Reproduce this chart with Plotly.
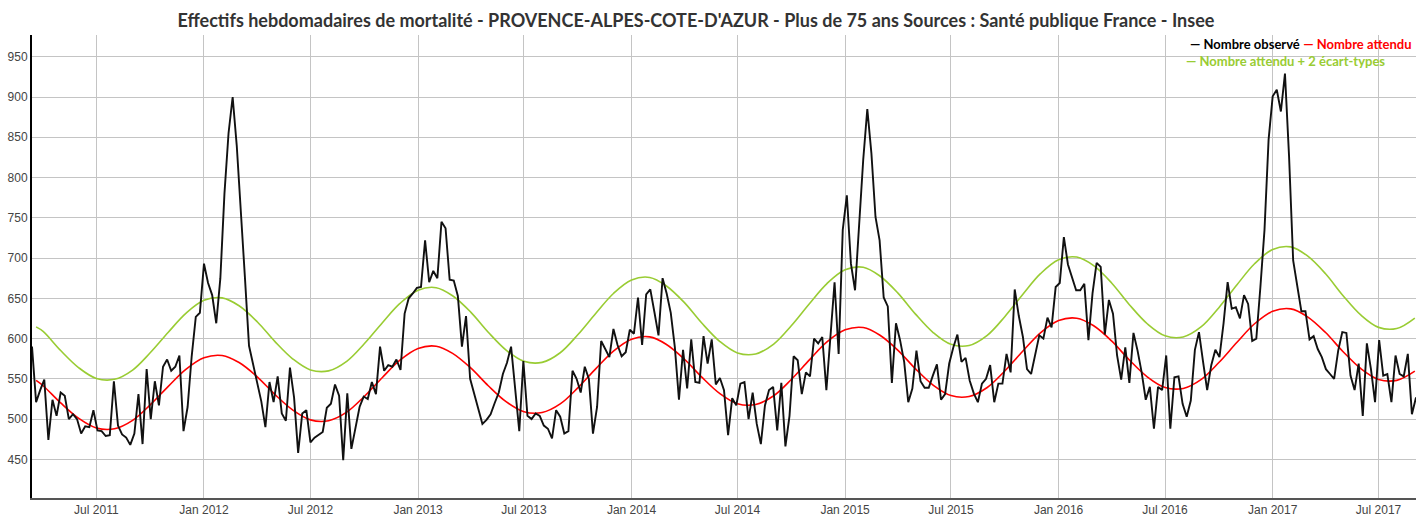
import pandas as pd
import plotly.graph_objects as go

# ---------------- data ----------------
obs_start = "2011-03-13"
observed = [
    590, 521, 536, 549, 474, 524, 504, 533, 529, 500,
    506, 500, 482, 491, 490, 511, 486, 485, 479, 480,
    547, 492, 481, 477, 468, 482, 531, 469, 562, 500,
    547, 517, 565, 574, 560, 565, 579, 485, 515, 578,
    627, 632, 693, 669, 654, 619, 675, 780, 855, 900,
    840, 764, 676, 591, 569, 548, 522, 490, 546, 521,
    553, 507, 498, 564, 527, 458, 507, 511, 471, 477,
    480, 484, 514, 519, 543, 529, 449, 532, 463, 490,
    515, 528, 525, 546, 531, 590, 560, 567, 565, 574,
    561, 631, 650, 656, 663, 664, 722, 670, 684, 675,
    745, 737, 673, 672, 653, 590, 628, 550, 531, 513,
    494, 499, 506, 520, 533, 556, 570, 590, 538, 485,
    572, 504, 500, 507, 504, 492, 488, 476, 511, 503,
    482, 485, 560, 550, 533, 565, 550, 482, 515, 597,
    587, 577, 612, 592, 578, 583, 611, 606, 651, 592,
    655, 661, 633, 604, 675, 656, 632, 589, 524, 586,
    538, 599, 546, 545, 603, 569, 599, 543, 551, 536,
    480, 526, 517, 544, 546, 500, 533, 494, 469, 517,
    536, 540, 486, 545, 466, 504, 578, 573, 531, 558,
    553, 600, 594, 602, 536, 606, 670, 581, 735, 778,
    693, 660, 739, 822, 885, 830, 751, 722, 651, 640,
    545, 619, 598, 571, 521, 538, 585, 547, 539, 539,
    554, 568, 524, 531, 569, 589, 605, 571, 576, 548,
    532, 521, 544, 550, 567, 521, 544, 544, 581, 558,
    661, 628, 602, 562, 556, 581, 604, 600, 626, 614,
    664, 669, 726, 692, 675, 660, 660, 668, 598, 656,
    694, 689, 605, 648, 631, 579, 549, 589, 545, 607,
    585, 558, 524, 540, 488, 540, 536, 579, 488, 552,
    553, 519, 503, 523, 586, 608, 571, 536, 567, 586,
    577, 619, 670, 637, 639, 625, 654, 643, 597, 600,
    664, 735, 847, 901, 909, 882, 929, 826, 697, 666,
    634, 634, 599, 603, 587, 577, 562, 556, 550, 585,
    608, 607, 554, 536, 569, 504, 594, 562, 521, 598,
    554, 556, 521, 579, 556, 553, 581, 506, 527,
]
obs_dates = pd.date_range(obs_start, periods=len(observed), freq="7D")

curve_dates = [pd.Timestamp("2011-03-20")] + list(
    pd.date_range("2011-04-01", "2017-09-01", freq="MS"))

expected = [
    548, 541.4, 520.1, 500.8, 489.0, 488.0, 498.4, 517.6, 540.7, 561.8,
    576.2, 579.0, 570.2, 552.5, 530.7, 511.1, 499.0, 498.0, 508.6, 528.1, 551.7, 573.1,
    587.7, 590.5, 581.6, 563.5, 541.4, 521.3, 509.1, 508.1, 518.8, 538.7, 562.6, 584.5,
    599.3, 602.1, 593.0, 574.6, 552.1, 531.6, 519.1, 518.1, 529.0, 549.2, 573.5, 595.8,
    610.8, 613.7, 604.4, 585.7, 562.7, 541.9, 529.2, 528.1, 539.2, 559.7, 584.5, 607.1,
    622.4, 625.3, 615.9, 596.8, 573.4, 552.2, 539.2, 538.1, 549.3, 570.2, 595.4, 618.4,
    633.9, 636.9, 627.3, 607.8, 584.0, 562.5, 549.3, 548.1, 559.5,
]
upper = [
    614.5, 608.9, 585.1, 563.7, 550.5, 549.4, 560.9, 582.3, 607.9, 631.3,
    647.5, 650.5, 640.7, 620.9, 596.5, 574.6, 561.1, 559.9, 571.7, 593.5, 619.7, 643.6,
    660.1, 663.2, 653.2, 632.9, 607.9, 585.4, 571.7, 570.4, 582.4, 604.7, 631.5, 656.0,
    672.8, 675.9, 665.6, 644.9, 619.3, 596.3, 582.2, 580.9, 593.2, 615.9, 643.3, 668.3,
    685.4, 688.6, 678.0, 656.8, 630.7, 607.2, 592.8, 591.4, 604.0, 627.2, 655.1, 680.6,
    698.0, 701.2, 690.5, 668.8, 642.1, 618.1, 603.4, 602.0, 614.7, 638.4, 666.9, 692.9,
    710.7, 713.9, 702.9, 680.8, 653.6, 629.0, 613.9, 612.5, 625.5,
]

series_names = ["Nombre observé", "Nombre attendu", "Nombre attendu + 2 écart-types"]
colors = ["#000000", "#ff0000", "#99cc33"]
title_text = ("Effectifs hebdomadaires de mortalité - PROVENCE-ALPES-COTE-D'AZUR - "
              "Plus de 75 ans Sources : Santé publique France - Insee")
x_range = ["2011-03-13", "2017-09-03"]
y_range = [402, 977]

# ---------------- figure ----------------
fig = go.Figure()
fig.add_trace(go.Scatter(x=curve_dates, y=upper, mode="lines", name=series_names[2],
                         line=dict(color=colors[2], width=1.6, shape="spline"),
                         showlegend=False))
fig.add_trace(go.Scatter(x=curve_dates, y=expected, mode="lines", name=series_names[1],
                         line=dict(color=colors[1], width=1.6, shape="spline"),
                         showlegend=False))
fig.add_trace(go.Scatter(x=obs_dates, y=observed, mode="lines", name=series_names[0],
                         line=dict(color="#111111", width=1.9),
                         showlegend=False))

legend_font = dict(family="Lato, sans-serif", size=13)
fig.add_annotation(
    xref="paper", yref="paper", x=1, y=0.9806, xanchor="right", yanchor="middle",
    xshift=-2, showarrow=False, font=legend_font,
    text=(f"<span style='color:{colors[0]}'><b>— {series_names[0]}</b></span> "
          f"<span style='color:{colors[1]}'><b>— {series_names[1]}</b></span>"))
fig.add_annotation(
    xref="paper", yref="paper", x=0.8344, y=0.9432, xanchor="left", yanchor="middle",
    xshift=-3, showarrow=False, font=legend_font,
    text=f"<span style='color:{colors[2]}'><b>— {series_names[2]}</b></span>")

fig.update_layout(
    width=1416, height=516,
    margin=dict(l=32, r=0, t=35, b=18),
    paper_bgcolor="white", plot_bgcolor="white",
    title=dict(text=f"<b>{title_text}</b>", x=0.4915, xref="container", xanchor="center",
               y=0.959, yref="container", yanchor="middle",
               font=dict(family="Lato, sans-serif", size=18, color="#333333")),
    font=dict(family="Liberation Sans, Arial, sans-serif", size=12, color="#444444"),
    xaxis=dict(range=x_range, type="date", tick0="2011-01-01", dtick="M6",
               tickformat="%b %Y", showgrid=True, gridcolor="#c4c4c4", gridwidth=1,
               showline=True, linecolor="#555555", linewidth=2, ticks="",
               zeroline=False),
    yaxis=dict(range=y_range, dtick=50, tick0=0, showgrid=True, gridcolor="#c4c4c4",
               gridwidth=1, showline=True, linecolor="#000000", linewidth=2,
               ticks="", zeroline=False),
)

fig.write_html("out.html", config={"displayModeBar": False},
               post_script="document.body.style.margin='0';")
